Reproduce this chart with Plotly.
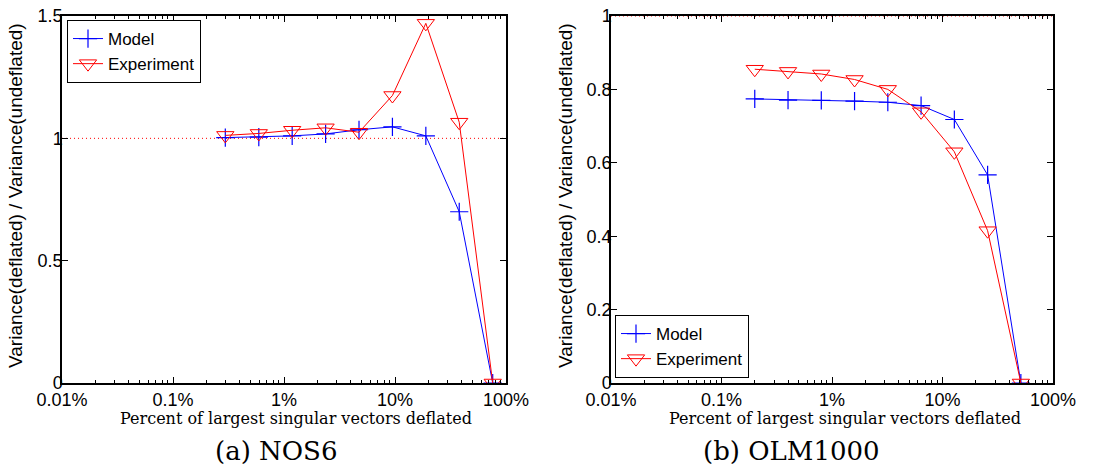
import plotly.graph_objects as go

# ---- data ----
nos6_pct = [0.296, 0.593, 1.185, 2.37, 4.74, 9.48, 18.96, 37.9, 75.9]
nos6_model = [1.003, 1.005, 1.010, 1.018, 1.035, 1.047, 1.010, 0.700, 0.0]
nos6_exp = [1.012, 1.020, 1.033, 1.043, 1.025, 1.175, 1.470, 1.066, 0.0]

olm_pct = [0.2, 0.4, 0.8, 1.6, 3.2, 6.4, 12.8, 25.6, 51.2]
olm_model = [0.774, 0.771, 0.770, 0.768, 0.765, 0.756, 0.718, 0.567, 0.0]
olm_exp = [0.855, 0.849, 0.842, 0.827, 0.800, 0.739, 0.630, 0.415, 0.0]

xtick_vals = [0.01, 0.1, 1, 10, 100]
xtick_text = ["0.01%", "0.1%", "1%", "10%", "100%"]
xminor_vals = [k * 10.0 ** e for e in range(-2, 2) for k in range(2, 10)]
y1_ticks = [0, 0.5, 1, 1.5]
y1_text = ["0", "0.5", "1", "1.5"]
y2_ticks = [0, 0.2, 0.4, 0.6, 0.8, 1]
y2_text = ["0", "0.2", "0.4", "0.6", "0.8", "1"]

BLUE = "#0000ff"
RED = "#ff0000"
SANS = "Liberation Sans"
SERIF = "DejaVu Serif"

fig = go.Figure()

def add_series(x, ym, ye, xa, ya, leg):
    fig.add_trace(go.Scatter(x=x, y=ym, mode="lines+markers", name="Model",
                             line=dict(color=BLUE, width=1),
                             marker=dict(symbol="cross-thin", size=13,
                                         line=dict(color=BLUE, width=1.2)),
                             xaxis=xa, yaxis=ya, legend=leg))
    fig.add_trace(go.Scatter(x=x, y=ye, mode="lines+markers", name="Experiment",
                             line=dict(color=RED, width=1),
                             marker=dict(symbol="triangle-down-open", size=15,
                                         color=RED, line=dict(color=RED, width=1)),
                             xaxis=xa, yaxis=ya, legend=leg))

add_series(nos6_pct, nos6_model, nos6_exp, "x", "y", "legend")
add_series(olm_pct, olm_model, olm_exp, "x2", "y2", "legend2")

common_x = dict(type="log", range=[-2, 2], tickvals=xtick_vals, ticktext=xtick_text,
                ticks="inside", ticklen=6, tickcolor="black", showline=True,
                linecolor="black", linewidth=1.5, mirror="allticks", showgrid=False,
                zeroline=False, automargin=False, ticklabelstandoff=0,
                tickfont=dict(family=SANS, size=18, color="black"),
                minor=dict(tickvals=xminor_vals, ticks="inside", ticklen=3,
                           tickcolor="black", showgrid=False))
common_y = dict(ticks="inside", ticklen=6, tickcolor="black", showline=True,
                linecolor="black", linewidth=1.5, mirror="allticks", showgrid=False,
                zeroline=False, automargin=False, ticklabelstandoff=-6,
                tickfont=dict(family=SANS, size=18, color="black"))

legend_common = dict(bgcolor="white", bordercolor="black", borderwidth=1,
                     font=dict(family=SANS, size=17, color="black"),
                     tracegroupgap=0, itemwidth=30)

fig.update_layout(
    width=1102, height=476,
    margin=dict(l=0, r=0, t=0, b=0, autoexpand=False),
    paper_bgcolor="white", plot_bgcolor="white",
    xaxis=dict(domain=[62/1102, 506/1102], anchor="y", **common_x),
    xaxis2=dict(domain=[611/1102, 1053/1102], anchor="y2", **common_x),
    yaxis=dict(domain=[93/476, 460/476], anchor="x", range=[0, 1.5],
               tickvals=y1_ticks, ticktext=y1_text, **common_y),
    yaxis2=dict(domain=[93/476, 460/476], anchor="x2", range=[0, 1],
                tickvals=y2_ticks, ticktext=y2_text, **common_y),
    legend=dict(x=67/1102, y=1-20/476, xanchor="left", yanchor="top", **legend_common),
    legend2=dict(x=615/1102, y=1-378/476, xanchor="left", yanchor="bottom", **legend_common),
    showlegend=True,
)

# reference line at 1
for xr, yr in [("x", "y"), ("x2", "y2")]:
    fig.add_shape(type="line", xref=f"{xr} domain", yref=yr, x0=0, x1=1, y0=1, y1=1,
                  line=dict(color=RED, width=1, dash="1px,3px"), layer="below")

# axis titles and captions
for tx, cx, cap, lx in [(296, 276, "(a) NOS6", 15), (845, 791, "(b) OLM1000", 565)]:
    fig.add_annotation(x=tx/1102, y=1-418/476, xref="paper", yref="paper",
                       text="Percent of largest singular vectors deflated", showarrow=False,
                       font=dict(family=SERIF, size=16, color="black"),
                       xanchor="center", yanchor="middle")
    fig.add_annotation(x=cx/1102, y=1-451/476, xref="paper", yref="paper",
                       text=cap, showarrow=False,
                       font=dict(family=SERIF, size=26, color="black"),
                       xanchor="center", yanchor="middle")
    fig.add_annotation(x=lx/1102, y=1-196/476, xref="paper", yref="paper",
                       text="Variance(deflated) / Variance(undeflated)", showarrow=False,
                       textangle=-90,
                       font=dict(family=SANS, size=19, color="black"),
                       xanchor="center", yanchor="middle")

fig.write_html("out.html")
